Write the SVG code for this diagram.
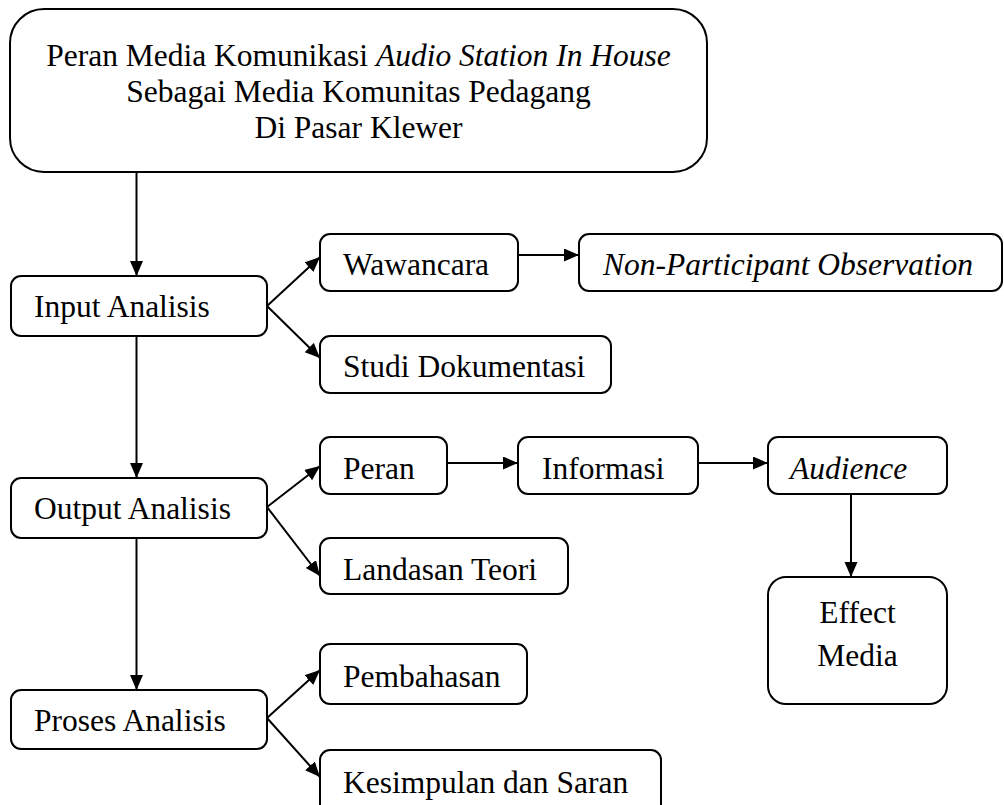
<svg xmlns="http://www.w3.org/2000/svg" width="1004" height="805" viewBox="0 0 1004 805">
  <style>
    .box { fill: #ffffff; stroke: #000000; stroke-width: 2; }
    .lbl { font-family: "Liberation Serif", "Times New Roman", serif; font-size: 31.5px; fill: #000000; }
    .it { font-style: italic; }
    .mid { text-anchor: middle; }
    .edge { fill: none; stroke: #000000; stroke-width: 2; marker-end: url(#arrow); }
  </style>
  <defs>
    <marker id="arrow" markerUnits="userSpaceOnUse" markerWidth="16" markerHeight="14" refX="15" refY="6.5" orient="auto">
      <path d="M0,0 L15,6.5 L0,13 z" fill="#000000"/>
    </marker>
  </defs>
  <rect width="1004" height="805" fill="#ffffff"/>

  <!-- connectors -->
  <g id="connectors">
    <line class="edge" x1="136.5" y1="172" x2="136.5" y2="276"/>
    <line class="edge" x1="136.5" y1="336" x2="136.5" y2="478"/>
    <line class="edge" x1="136.5" y1="538" x2="136.5" y2="690"/>

    <line class="edge" x1="267" y1="306" x2="320" y2="257"/>
    <line class="edge" x1="267" y1="306" x2="320" y2="358"/>
    <line class="edge" x1="518" y1="255" x2="579" y2="255"/>

    <line class="edge" x1="267" y1="507" x2="320" y2="466"/>
    <line class="edge" x1="267" y1="507" x2="320" y2="576"/>
    <line class="edge" x1="447" y1="463" x2="518" y2="463"/>
    <line class="edge" x1="698" y1="463" x2="768" y2="463"/>
    <line class="edge" x1="851" y1="494" x2="851" y2="577"/>

    <line class="edge" x1="267" y1="718" x2="320" y2="670"/>
    <line class="edge" x1="267" y1="718" x2="320" y2="777"/>
  </g>

  <!-- title -->
  <g id="title">
    <rect class="box" x="10" y="9" width="697" height="163" rx="34" ry="34"/>
    <text class="lbl mid" x="358.5" y="66">Peran Media Komunikasi <tspan class="it">Audio Station In House</tspan></text>
    <text class="lbl mid" x="358.5" y="102">Sebagai Media Komunitas Pedagang</text>
    <text class="lbl mid" x="358.5" y="138">Di Pasar Klewer</text>
  </g>

  <!-- analysis stages -->
  <g id="input-analisis">
    <rect class="box" x="11" y="276" width="256" height="60" rx="10" ry="10"/>
    <text class="lbl" x="34" y="317">Input Analisis</text>
  </g>
  <g id="output-analisis">
    <rect class="box" x="11" y="478" width="256" height="60" rx="10" ry="10"/>
    <text class="lbl" x="34" y="519">Output Analisis</text>
  </g>
  <g id="proses-analisis">
    <rect class="box" x="11" y="690" width="256" height="59" rx="10" ry="10"/>
    <text class="lbl" x="34" y="731">Proses Analisis</text>
  </g>

  <!-- input branch -->
  <g id="wawancara">
    <rect class="box" x="320" y="234" width="198" height="57" rx="10" ry="10"/>
    <text class="lbl" x="343" y="275">Wawancara</text>
  </g>
  <g id="non-participant-observation">
    <rect class="box" x="579" y="234" width="423" height="57" rx="10" ry="10"/>
    <text class="lbl it" x="603" y="275">Non-Participant Observation</text>
  </g>
  <g id="studi-dokumentasi">
    <rect class="box" x="320" y="336" width="291" height="57" rx="10" ry="10"/>
    <text class="lbl" x="343" y="377">Studi Dokumentasi</text>
  </g>

  <!-- output branch -->
  <g id="peran">
    <rect class="box" x="320" y="437" width="127" height="57" rx="10" ry="10"/>
    <text class="lbl" x="343" y="479">Peran</text>
  </g>
  <g id="informasi">
    <rect class="box" x="518" y="437" width="180" height="57" rx="10" ry="10"/>
    <text class="lbl" x="542" y="479">Informasi</text>
  </g>
  <g id="audience">
    <rect class="box" x="768" y="437" width="179" height="57" rx="10" ry="10"/>
    <text class="lbl it" x="790" y="479">Audience</text>
  </g>
  <g id="effect-media">
    <rect class="box" x="768" y="577" width="179" height="127" rx="18" ry="18"/>
    <text class="lbl mid" x="857.5" y="623">Effect</text>
    <text class="lbl mid" x="857.5" y="666">Media</text>
  </g>
  <g id="landasan-teori">
    <rect class="box" x="320" y="538" width="248" height="56" rx="10" ry="10"/>
    <text class="lbl" x="343" y="580">Landasan Teori</text>
  </g>

  <!-- process branch -->
  <g id="pembahasan">
    <rect class="box" x="320" y="644" width="207" height="60" rx="10" ry="10"/>
    <text class="lbl" x="343" y="687">Pembahasan</text>
  </g>
  <g id="kesimpulan-dan-saran">
    <rect class="box" x="320" y="750" width="341" height="70" rx="10" ry="10"/>
    <text class="lbl" x="343" y="793">Kesimpulan dan Saran</text>
  </g>
</svg>
